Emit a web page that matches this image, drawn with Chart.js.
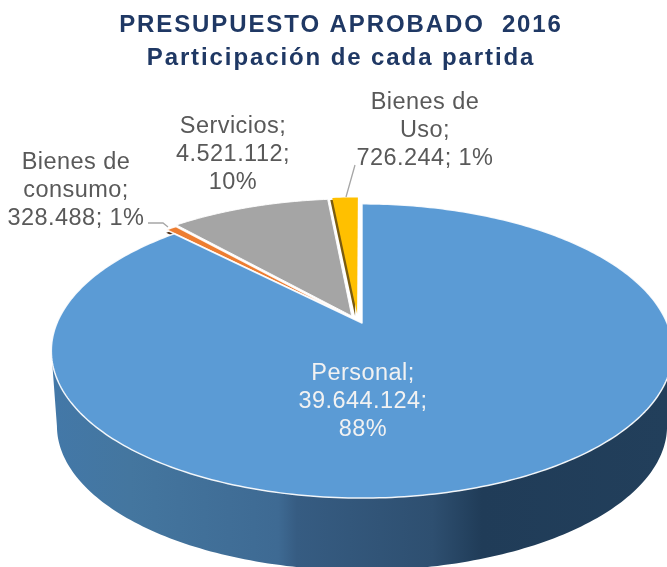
<!DOCTYPE html>
<html><head><meta charset="utf-8">
<style>html,body{margin:0;padding:0;background:#fff;overflow:hidden}#wrap{width:667px;height:567px}canvas{filter:blur(0.45px)}</style>
<script src="https://cdn.jsdelivr.net/npm/chart.js@4"></script></head>
<body><div id="wrap"><canvas id="c" width="667" height="567"></canvas></div>
<script>
const categories = ["Personal","Bienes de consumo","Servicios","Bienes de Uso"];
const values = [39644124,328488,4521112,726244];
const titleLines = ["PRESUPUESTO APROBADO  2016","Participación de cada partida"];
const labelLines = [
  ["Personal;","39.644.124;","88%"],
  ["Bienes de","consumo;","328.488; 1%"],
  ["Servicios;","4.521.112;","10%"],
  ["Bienes de","Uso;","726.244; 1%"]
];
const sliceColors = ["#5B9BD5","#ED7D31","#A5A5A5","#FFC000"];
const wallColors = ["#3D668F","#4a2a12","#A5A5A5","#7a5c10"];
const explode = [0,0.05,0.055,0.065];
const explodeSide = [0,0,-0.012,-0.013];

// view of the tilted disc
const V = {x:362,y:323,a:305,b:141.8,k:0.19,depth:75,shrink:0.982,cy:350};
function proj(th,r,e,mid,side){
  let u=r*Math.sin(th)+e*Math.sin(mid)+(side||0), v=r*Math.cos(th)+e*Math.cos(mid);
  const w=1+V.k*v;
  return [V.x+V.a*u/w, V.y-V.b*v/w];
}
function lower(p){return [V.x+(p[0]-V.x)*V.shrink, V.cy+(p[1]-V.cy)*V.shrink+V.depth];}
function slicePath(ctx,a0,a1,e,side,dx,dy){
  const mid=(a0+a1)/2, n=Math.max(4,Math.ceil((a1-a0)*60));
  ctx.beginPath();
  let c=proj(0,0,e,mid,side); ctx.moveTo(c[0]+dx,c[1]+dy);
  for(let i=0;i<=n;i++){const p=proj(a0+(a1-a0)*i/n,1,e,mid,side);ctx.lineTo(p[0]+dx,p[1]+dy);}
  ctx.closePath();
}
const pie3d = {
  id:'pie3d',
  beforeDraw(chart){ chart.ctx.letterSpacing='1.9px'; },
  beforeDatasetDraw(chart,args){
    const ctx=chart.ctx, meta=args.meta;
    const arcs=meta.data.map((el,i)=>{
      const p=el.getProps(['startAngle','endAngle'],true);
      return {i,a0:p.startAngle+Math.PI/2,a1:p.endAngle+Math.PI/2};
    });
    ctx.save();
    // deep side wall of the large slice
    const from=Math.acos(-V.k), to=2*Math.PI-Math.acos(-V.k);
    const top=[],N=160;
    for(let i=0;i<=N;i++) top.push(proj(from+(to-from)*i/N,1,0,0));
    ctx.beginPath();
    top.forEach((p,i)=>i?ctx.lineTo(p[0],p[1]):ctx.moveTo(p[0],p[1]));
    top.slice().reverse().forEach(p=>{const q=lower(p);ctx.lineTo(q[0],q[1]);});
    ctx.closePath();
    const g=ctx.createLinearGradient(50,0,667,0);
    g.addColorStop(0,"#4378A8");g.addColorStop(0.13,"#44769F");g.addColorStop(0.37,"#3E6A93");
    g.addColorStop(0.40,"#365C82");g.addColorStop(0.62,"#2E4F70");g.addColorStop(0.70,"#203C58");g.addColorStop(1,"#223F5B");
    ctx.fillStyle=g;ctx.fill();
    // back to front: thin walls of the small slices, then the top faces
    [[3,-2,2],[1,0,3]].forEach(([i,dx,dy])=>{
      const s=arcs[i];
      ctx.fillStyle=wallColors[i];
      slicePath(ctx,s.a0,s.a1,explode[i],explodeSide[i],dx,dy);ctx.fill();
    });
    [3,2,1,0].forEach(i=>{
      const s=arcs[i];
      slicePath(ctx,s.a0,s.a1,explode[i],explodeSide[i],0,0);
      ctx.fillStyle=meta.data[i].options.backgroundColor;ctx.fill();
      if(i!==3){
        ctx.lineWidth=i===1?1.6:(i?1:1.5);ctx.strokeStyle="rgba(255,255,255,0.9)";ctx.lineJoin='round';ctx.stroke();
      }
    });
    ctx.restore();
    return false;
  },
  afterDraw(chart){
    const ctx=chart.ctx;
    ctx.save();
    ctx.letterSpacing='0px';
    ctx.strokeStyle="#A6A6A6";ctx.lineWidth=1.3;
    ctx.beginPath();ctx.moveTo(148,223);ctx.lineTo(163,223);ctx.lineTo(168,227);
    ctx.moveTo(355,165);ctx.lineTo(346,197);ctx.stroke();
    ctx.letterSpacing='0.45px';
    ctx.font='23.5px "Liberation Sans"';ctx.textAlign='center';ctx.textBaseline='alphabetic';
    const spots=[[363,380],[76,169],[233,133],[425,109]];
    labelLines.forEach((lines,i)=>{
      ctx.fillStyle=i===0?"#F2F2F2":"#595959";
      lines.forEach((t,j)=>ctx.fillText(t,spots[i][0],spots[i][1]+j*28));
    });
    ctx.restore();
  }
};
new Chart(document.getElementById('c'),{
  type:'pie',
  data:{labels:categories,datasets:[{data:values,backgroundColor:sliceColors,borderColor:"#fff",borderWidth:1}]},
  options:{
    responsive:false,animation:false,
    layout:{padding:{left:15}},
    plugins:{
      legend:{display:false},tooltip:{enabled:false},
      title:{display:true,text:titleLines,color:"#1F3864",font:{family:'"Liberation Sans"',size:24,weight:'bold',lineHeight:1.38},padding:{top:9,bottom:0}}
    }
  },
  plugins:[pie3d]
});
</script></body></html>
